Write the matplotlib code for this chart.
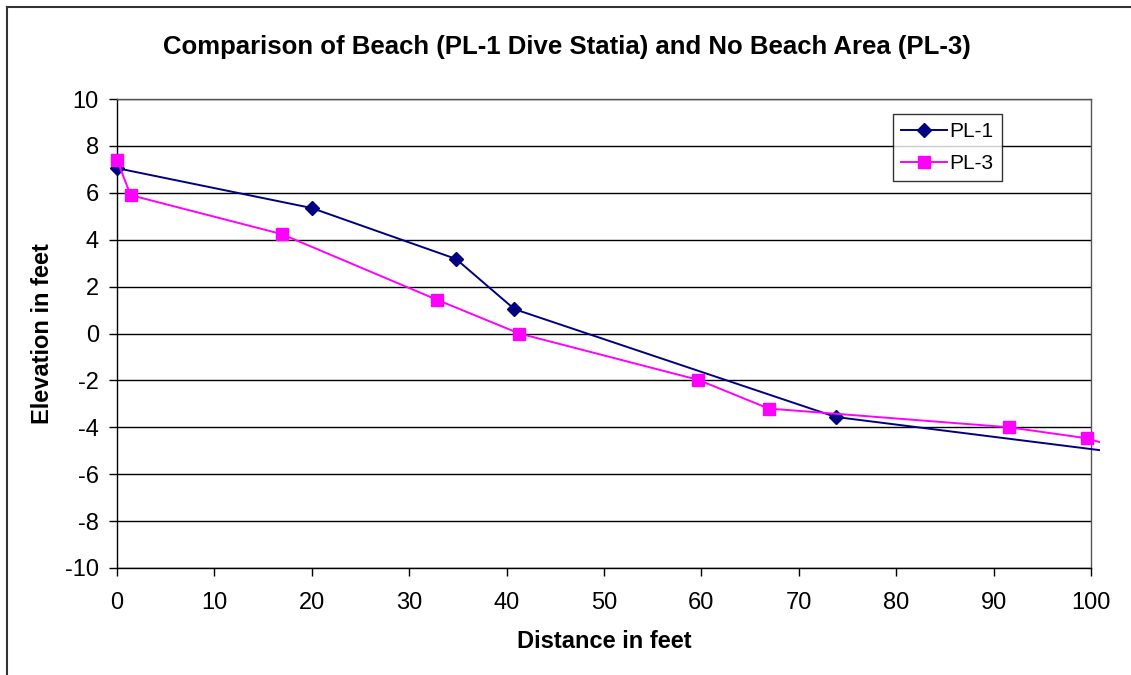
import matplotlib
matplotlib.use("Agg")
import matplotlib.pyplot as plt
from matplotlib.lines import Line2D
from matplotlib.patches import Rectangle

plt.rcParams['font.family'] = ['Liberation Sans', 'DejaVu Sans']
plt.rcParams['axes.unicode_minus'] = False

# Beach profile PL-1 (Dive Statia)
pl1_dist = [0, 20, 34.8, 40.8, 73.8, 110]
pl1_elev = [7.05, 5.35, 3.18, 1.04, -3.56, -5.45]

# No-beach profile PL-3
pl3_dist = [0, 1.4, 16.9, 32.9, 41.3, 59.7, 66.9, 91.6, 99.6, 105]
pl3_elev = [7.4, 5.9, 4.24, 1.43, 0.0, -1.98, -3.2, -4.0, -4.47, -5.15]

x_ticks = list(range(0, 101, 10))
y_ticks = list(range(-10, 11, 2))

W, H = 1131, 675
fig = plt.figure(figsize=(W / 100, H / 100), dpi=100)
ax = fig.add_axes([117 / W, 1 - 568 / H, (1091 - 117) / W, (568 - 99) / H])

ax.set_xlim(0, 100)
ax.set_ylim(-10, 10)
ax.set_xticks(x_ticks)
ax.set_yticks(y_ticks)
ax.yaxis.grid(True, color='black', linewidth=1.0)
ax.set_axisbelow(True)
for s in ax.spines.values():
    s.set_color('black')
    s.set_linewidth(1.0)
ax.spines['top'].set_color('#555555')
ax.spines['right'].set_color('#555555')
ax.tick_params(direction='out', length=6, width=1, labelsize=17, colors='black')
ax.tick_params(axis='x', pad=11)
ax.tick_params(axis='y', pad=7)

l1, = ax.plot(pl1_dist, pl1_elev, color='#000080', linewidth=1.4, marker='D',
              markersize=7, markeredgecolor='#000080', markerfacecolor='#000080',
              label='PL-1', zorder=3)
l3, = ax.plot(pl3_dist, pl3_elev, color='#FF00FF', linewidth=1.4, marker='s',
              markersize=8, markeredgecolor='#FF00FF', markerfacecolor='#FF00FF',
              label='PL-3', zorder=3)

# lines may run a few pixels past the right edge; markers at x=0 stay whole
clip = Rectangle((-0.02, -0.02), 1.029, 1.04, transform=ax.transAxes, facecolor='none')
for ln in (l1, l3):
    ln.set_clip_box(None)
    ln.set_clip_path(clip)

ax.set_xlabel('Distance in feet', fontsize=17, fontweight='bold', labelpad=12)
ax.set_ylabel('Elevation in feet', fontsize=17, fontweight='bold', labelpad=8)
fig.text(567 / W, 1 - 47 / H, 'Comparison of Beach (PL-1 Dive Statia) and No Beach Area (PL-3)',
         ha='center', va='center', fontsize=18.5, fontweight='bold')

leg = ax.legend(loc='upper left', bbox_to_anchor=((893 - 117) / (1091 - 117), 1 - (114 - 99) / (568 - 99)),
                fontsize=15, frameon=True, fancybox=False, edgecolor='black',
                borderpad=0.4, handlelength=2.2, handletextpad=0.1, labelspacing=0.6,
                borderaxespad=0)
leg.get_frame().set_linewidth(1.0)

# outer chart border (top and left edges)
fig.add_artist(Line2D([7 / W, 1], [1 - 7 / H, 1 - 7 / H], transform=fig.transFigure,
                      color='#333333', linewidth=1.5))
fig.add_artist(Line2D([7 / W, 7 / W], [0, 1 - 7 / H], transform=fig.transFigure,
                      color='#333333', linewidth=1.5))

fig.savefig('out.png', dpi=100, facecolor='white')
